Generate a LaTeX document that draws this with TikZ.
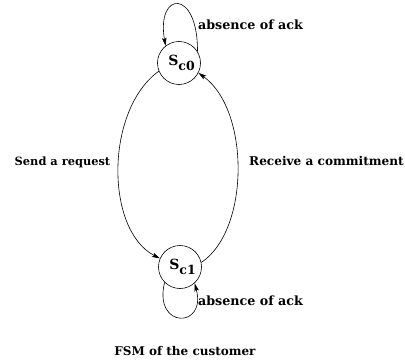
\documentclass[tikz,border=0pt]{standalone}
\usepackage{fontspec}
\setmainfont{DejaVu Serif}
\usetikzlibrary{arrows.meta}
\begin{document}
\begin{tikzpicture}[x=1pt,y=1pt,
  state/.style={circle,draw,line width=0.6pt,minimum size=43pt,inner sep=0pt,
    font=\bfseries\fontsize{14}{16}\selectfont},
  lbl/.style={font=\bfseries,inner sep=0pt,anchor=base},
  edge/.style={line width=0.6pt,-{Stealth[length=8pt,width=4.5pt,inset=1.5pt]}}]
\useasboundingbox (0,0) rectangle (405,360);
\node[state] (s0) at (179,297) {\hspace{5pt}S\raisebox{-5pt}{\fontsize{12.5}{14}\selectfont c0}};
\node[state] (s1) at (180,93) {\hspace{5pt}S\raisebox{-5pt}{\fontsize{12.5}{14}\selectfont c1}};
% big arcs
\draw[edge] (s0.202) .. controls (105,250) and (105,130) .. (s1.157);
\draw[edge] (s1.12) .. controls (250,130) and (250,250) .. (s0.333);
% loops
\draw[edge] (s0.32) .. controls (198,372) and (156,369) .. (s0.128);
\draw[edge] (s1.225) .. controls (153,31) and (207,31) .. (s1.-48);
% labels
\node[lbl,font=\bfseries\fontsize{12.7}{14}\selectfont] (t0) at (250.5,331) {absence of ack};
\node[lbl,font=\bfseries\fontsize{12.7}{14}\selectfont] (t1) at (250.5,55) {absence of ack};
\node[lbl,font=\bfseries\fontsize{11.4}{14}\selectfont] (t2) at (62.5,195) {Send a request};
\node[lbl,font=\bfseries\fontsize{12.1}{14}\selectfont] (t3) at (326.5,195) {Receive a commitment};
\node[lbl,font=\bfseries\fontsize{12.0}{14}\selectfont] (t4) at (185,5) {FSM of the customer};
\end{tikzpicture}
\end{document}
